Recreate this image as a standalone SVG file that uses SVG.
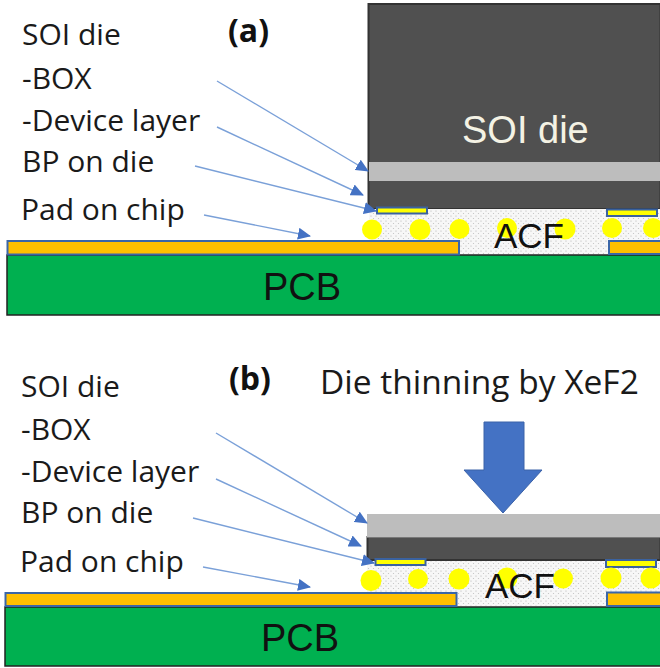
<svg xmlns="http://www.w3.org/2000/svg" width="660" height="668" viewBox="0 0 660 668">
<style>
.t{font-family:"Open Sans","Noto Sans",sans-serif;font-size:30px;fill:#1a1a1a}
.b{font-family:"Open Sans","Noto Sans",sans-serif;font-size:32px;font-weight:700;fill:#111}
.s{font-family:"Liberation Sans",Arial,sans-serif;font-size:38px;fill:#111}
.a{font-family:"Liberation Sans",Arial,sans-serif;font-size:35px;fill:#111}
.die{fill:#505050;stroke:#333;stroke-width:2}
.box{fill:#bdbdbd}
.acf{fill:url(#dots)}
.pad{fill:#ffff00;stroke:#3a62a0;stroke-width:2}
.or{fill:#ffc000;stroke:#3a66a8;stroke-width:2}
.pcb{fill:#00b050;stroke:#222;stroke-width:1.5}
.ball{fill:#ffff00}
.ar{fill:none;stroke:#7aa0d8;stroke-width:1.4;marker-end:url(#ah)}
</style>
<defs>
<pattern id="dots" width="5" height="5" patternUnits="userSpaceOnUse"><rect width="5" height="5" fill="#f7f7f7"/><circle cx="1" cy="1" r=".6" fill="#b0b0b0"/><circle cx="3.500" cy="3.500" r=".6" fill="#c0c0c0"/></pattern>
<marker id="ah" markerUnits="userSpaceOnUse" markerWidth="14" markerHeight="12" refX="12" refY="6" orient="auto"><path d="M0 0L13 6L0 12z" fill="#4472c4"/></marker>
</defs>
<g id="panel-a">
<g id="die-a"><rect class="die" x="368.500" y="4" width="292" height="205"/><rect class="box" x="369" y="162" width="291" height="19"/><text x="462" y="143" font-family="Liberation Sans,Arial,sans-serif" font-size="38" fill="#f4f2e4">SOI die</text></g>
<rect id="acf-a" class="acf" x="369" y="209" width="291" height="46"/>
<g id="pads-a"><rect class="pad" x="377" y="207.500" width="50" height="6"/><rect class="pad" x="607" y="209.500" width="50" height="6.500"/></g>
<g id="pcb-a"><rect class="pcb" x="7" y="255" width="654" height="60"/><text class="s" x="263" y="300">PCB</text></g>
<g id="chip-pads-a"><rect class="or" x="7.500" y="241" width="451.500" height="13.500"/><rect class="or" x="609" y="241" width="52" height="13"/></g>
<g id="balls-a"><circle class="ball" cx="372" cy="229.500" r="10"/><circle class="ball" cx="420" cy="229.500" r="10.500"/><circle class="ball" cx="459.500" cy="229" r="10"/><circle class="ball" cx="507" cy="228" r="10"/><circle class="ball" cx="565" cy="229" r="10.500"/><circle class="ball" cx="612" cy="228" r="10"/><circle class="ball" cx="653" cy="228" r="10"/></g>
<text class="a" x="494" y="248">ACF</text>
<text class="b" x="228" y="42">(a)</text>
<g id="labels-a"><text class="t" x="22" y="45">SOI die</text><text class="t" x="22" y="89">-BOX</text><text class="t" x="22" y="131">-Device layer</text><text class="t" x="22" y="172">BP on die</text><text class="t" x="21" y="220">Pad on chip</text></g>
</g>
<g id="panel-b">
<g id="die-b"><rect class="die" x="367.500" y="537" width="293" height="23"/><rect class="box" x="367" y="514" width="293" height="23.500"/></g>
<rect id="acf-b" class="acf" x="367" y="561" width="293" height="45"/>
<g id="pads-b"><rect class="pad" x="375.500" y="559" width="50" height="6"/><rect class="pad" x="606" y="560" width="50" height="7"/></g>
<g id="pcb-b"><rect class="pcb" x="5" y="607" width="656" height="59"/><text class="s" x="261" y="651">PCB</text></g>
<g id="chip-pads-b"><rect class="or" x="5.500" y="593" width="451" height="13"/><rect class="or" x="607" y="592.500" width="54" height="13.500"/></g>
<g id="balls-b"><circle class="ball" cx="371" cy="580.500" r="10.500"/><circle class="ball" cx="418" cy="579" r="10"/><circle class="ball" cx="459" cy="579" r="10.500"/><circle class="ball" cx="507" cy="578" r="10.500"/><circle class="ball" cx="563" cy="578.500" r="10"/><circle class="ball" cx="611" cy="578" r="10.500"/><circle class="ball" cx="651" cy="578" r="10.500"/></g>
<text class="a" x="485" y="598">ACF</text>
<text class="b" x="229" y="390">(b)</text>
<text id="thinning" x="320" y="394" font-family="Open Sans,Noto Sans,sans-serif" font-size="33.500" fill="#1a1a1a">Die thinning by XeF2</text>
<path id="down-arrow" d="M484 422H524V470H542L503 513L464 470H484Z" fill="#4472c4" stroke="#3a62a8"/>
<g id="labels-b"><text class="t" x="21" y="397">SOI die</text><text class="t" x="21" y="440">-BOX</text><text class="t" x="21" y="482">-Device layer</text><text class="t" x="21" y="523">BP on die</text><text class="t" x="20" y="572">Pad on chip</text></g>
</g>
<g id="connectors">
<path class="ar" d="M217 81L368 171"/><path class="ar" d="M217 127L363 195"/><path class="ar" d="M195 166L376 211"/><path class="ar" d="M204 215L310 236"/>
<path class="ar" d="M216 433L367 523"/><path class="ar" d="M216 479L361 546"/><path class="ar" d="M193 518L374 563"/><path class="ar" d="M203 567L310 587"/>
</g>
</svg>
